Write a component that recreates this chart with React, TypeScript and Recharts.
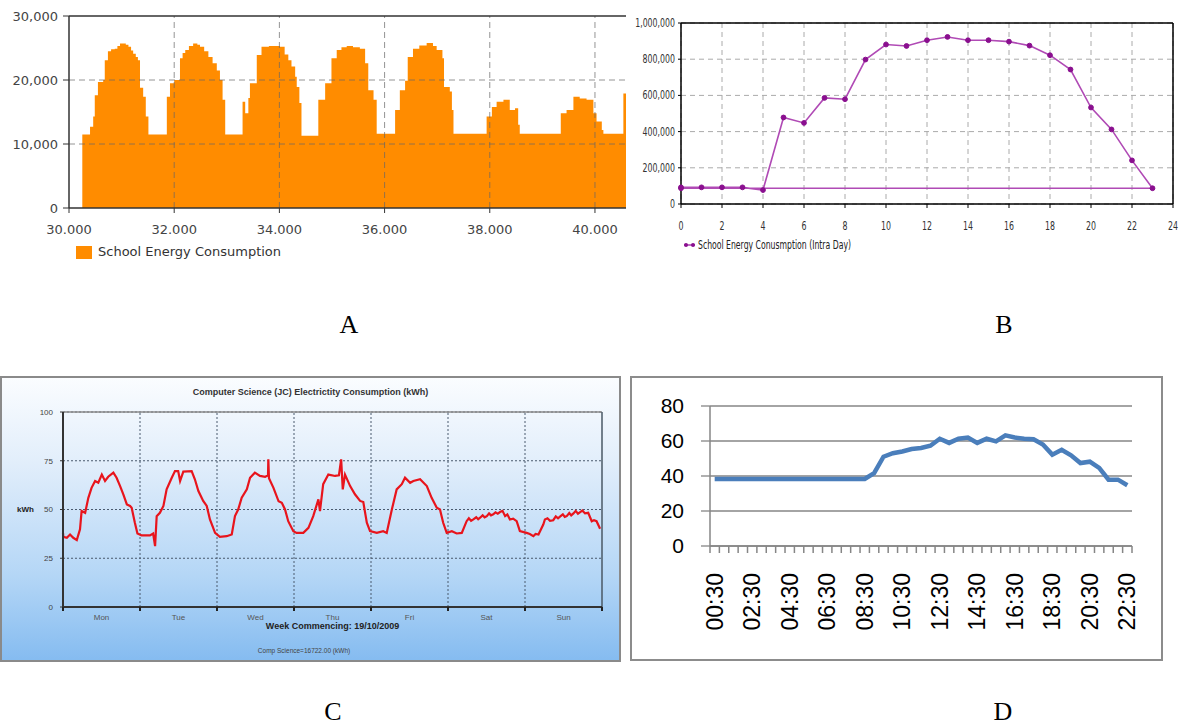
import React from 'react';
import { AreaChart, Area, LineChart, Line, XAxis, YAxis, CartesianGrid, ReferenceLine } from 'recharts';

// ---------- Chart A: School Energy Consumption ----------
const aX = [30.253, 30.40, 30.46, 30.49, 30.55, 30.65, 30.68, 30.74, 30.80, 30.87, 30.92, 30.97, 31.08, 31.13, 31.18, 31.22, 31.27, 31.31, 31.35, 31.41, 31.46, 31.51,
  31.86, 31.92, 32.00, 32.11, 32.16, 32.21, 32.28, 32.36, 32.44, 32.49, 32.57, 32.65, 32.73, 32.81, 32.87, 32.92, 32.97,
  33.30, 33.35, 33.41, 33.44, 33.57, 33.66, 33.80, 34.01, 34.10, 34.17, 34.23, 34.30, 34.33, 34.38, 34.42,
  34.74, 34.87, 34.99, 35.09, 35.18, 35.28, 35.40, 35.53, 35.63, 35.69, 35.79, 35.85,
  36.20, 36.29, 36.39, 36.44, 36.54, 36.66, 36.80, 36.92, 36.99, 37.10, 37.13, 37.24, 37.28, 37.31,
  37.94, 38.04, 38.13, 38.26, 38.38, 38.48, 38.54, 38.57,
  39.35, 39.46, 39.59, 39.71, 39.84, 39.97, 40.03, 40.13, 40.16, 40.54, 40.59];
const aY = [11500, 12700, 14300, 17600, 19700, 20000, 23100, 24500, 24800, 24900, 25300, 25700, 25500, 25200, 24600, 24100, 23600, 23100, 18800, 17400, 14300, 11500,
  17400, 19500, 20000, 23400, 24200, 24700, 25300, 25700, 25500, 25200, 24500, 23600, 22600, 21500, 20000, 16900, 11500,
  16600, 14800, 17200, 19500, 23900, 25200, 25300, 25200, 24000, 23100, 22100, 20500, 18900, 16400, 11300,
  16900, 19500, 23400, 24700, 25100, 25300, 25100, 24900, 22600, 18400, 16900, 11600,
  15300, 18400, 19900, 23600, 24900, 25400, 25800, 25300, 24700, 23400, 18900, 18200, 15300, 11600,
  14300, 15800, 16600, 16900, 15300, 15600, 13000, 11600,
  14800, 15300, 17400, 17100, 16900, 14800, 13500, 12200, 11600, 17900, 17900];
const aXTicks = [30, 32, 34, 36, 38, 40];
const aYTicks = [0, 10000, 20000, 30000];

// ---------- Chart B: Intra Day ----------
const bHours = [0, 1, 2, 3, 4, 5, 6, 7, 8, 9, 10, 11, 12, 13, 14, 15, 16, 17, 18, 19, 20, 21, 22, 23, 0];
const bValues = [92000, 92000, 92000, 92000, 77000, 478000, 448000, 586000, 579000, 798000, 881000, 873000, 905000, 923000,
  905000, 905000, 897000, 875000, 822000, 743000, 533000, 412000, 241000, 87000, 87000];
const bXTicks = [0, 2, 4, 6, 8, 10, 12, 14, 16, 18, 20, 22, 24];
const bYTicks = [0, 200000, 400000, 600000, 800000, 1000000];

// ---------- Chart C: Computer Science (JC) ----------
const cHours = [0, 0.1, 1.2, 2.2, 3.2, 4.3, 5.3, 5.8, 6.9, 7.9, 8.9, 10.0, 11.0, 12.1, 13.1, 14.1, 15.7, 16.7, 17.8, 18.8, 19.9, 20.9, 21.4, 22.4, 23.2,
  24.5, 27.1, 28.1, 28.7, 29.2, 30.2, 31.3, 32.3, 33.9, 34.9, 35.9, 36.5, 37.5, 40.1, 41.1, 42.2, 43.7, 44.8, 45.8, 47.4,
  48.9, 51.0, 52.6, 53.6, 54.6, 55.7, 57.3, 58.3, 59.8, 61.4, 63.0, 63.9, 64.0, 64.2, 65.6, 67.2, 68.2, 69.2, 70.2, 71.8,
  72.8, 74.9, 76.5, 78.0, 79.6, 80.1, 81.1, 82.7, 84.8, 86.0, 86.7, 87.2, 87.9, 89.5, 91.0, 92.6, 93.6, 94.7, 95.7,
  97.8, 99.8, 100.9, 102.5, 104.0, 105.6, 106.6, 108.2, 109.2, 111.3, 113.4, 114.9, 116.5, 117.5, 118.5, 119.6,
  121.2, 122.7, 124.3, 125.8, 126.5, 127.2, 127.9, 128.8, 129.4, 130.0, 130.8, 131.4, 132.1, 132.8, 133.4, 134.1, 134.8, 135.5,
  136.2, 137.0, 137.8, 138.5, 139.3, 140.3, 141.4, 142.4,
  144.5, 145.5, 146.6, 147.3, 148.2, 149.7, 150.2, 151.0, 151.8, 152.8, 153.6, 154.3, 154.9, 155.8, 156.4, 157.0, 157.8, 158.4,
  159.1, 159.8, 160.5, 161.2, 161.9, 162.7, 163.7, 164.8, 165.5, 166.3, 167.4];
const cValues = [38, 36, 35.5, 37.2, 35.5, 34.3, 39.8, 49.2, 48.3, 56, 61.1, 64.6, 63.7, 67.9, 64.6, 66.8, 68.9, 66.3, 62, 57.8, 52.6, 51.8, 50.9, 43.2, 37.7,
  36.7, 36.7, 37.7, 31.2, 46.6, 48.3, 51.8, 60.3, 66.3, 69.7, 69.7, 64.6, 69.4, 69.7, 65.5, 59.5, 54.4, 51.8, 44.9, 38,
  36, 36.3, 37.2, 46.6, 50, 56, 60.3, 66.3, 68.9, 67.2, 66.8, 67.5, 75.7, 66, 61.1, 54.2, 53.4, 50, 44, 38.9,
  38, 38, 40.6, 46.6, 55.2, 49.2, 63, 67.9, 67.2, 67.5, 75.7, 60.3, 67.9, 62, 57.8, 54.4, 53.8, 43.2, 38.9,
  38, 38.9, 38, 50, 60.3, 63, 66.3, 63.7, 64.6, 65.5, 62, 56, 50.9, 50, 43.2, 38,
  38.9, 37.7, 38, 44, 45.5, 44.2, 44.9, 46, 45, 45.8, 47, 46, 46.6, 48, 47, 47.5, 48.5, 47.8,
  48.7, 49.3, 46.6, 47.5, 44.9, 45.3, 44, 38.9,
  38, 37.4, 36.3, 37.5, 37.2, 42.3, 44.9, 45.5, 44.2, 44.5, 46.5, 45.5, 46.3, 47.5, 46.2, 46.6, 48.2, 47,
  48, 49.3, 47.8, 48.7, 49.5, 48, 48.3, 44, 44.5, 44, 40.1];
const cDays = ['Mon', 'Tue', 'Wed', 'Thu', 'Fri', 'Sat', 'Sun'];
const cXTicks = [0, 12, 24, 36, 48, 60, 72, 84, 96, 108, 120, 132, 144, 156, 168];
const cDayLines = [24, 48, 72, 96, 120, 144];
const cYTicks = [0, 25, 50, 75, 100];

// ---------- Chart D: half-hourly ----------
const dTimes = ['00:30', '01:00', '01:30', '02:00', '02:30', '03:00', '03:30', '04:00', '04:30', '05:00', '05:30', '06:00',
  '06:30', '07:00', '07:30', '08:00', '08:30', '09:00', '09:30', '10:00', '10:30', '11:00', '11:30', '12:00', '12:30',
  '13:00', '13:30', '14:00', '14:30', '15:00', '15:30', '16:00', '16:30', '17:00', '17:30', '18:00', '18:30', '19:00',
  '19:30', '20:00', '20:30', '21:00', '21:30', '22:00', '22:30'];
const dValues = [38.3, 38.3, 38.3, 38.3, 38.3, 38.3, 38.3, 38.3, 38.3, 38.3, 38.3, 38.3, 38.3, 38.3, 38.3, 38.3, 38.3,
  41.7, 51, 53, 54, 55.4, 56, 57.3, 61.3, 58.9, 61.3, 62, 58.9, 61.3, 59.8, 63.2, 62, 61.3, 61, 58, 52.2, 55, 51.8,
  47.4, 48.2, 44.6, 37.9, 37.9, 34.7];
const dYTicks = [0, 20, 40, 60, 80];
const dLabelEvery = 4;

const aData = aX.map((x, i) => ({ x, y: aY[i] }));
const bData = bHours.map((h, i) => ({ h, v: bValues[i] }));
const cData = cHours.map((h, i) => ({ h, v: cValues[i] }));
const dData = dTimes.map((t, i) => ({ i, t, v: dValues[i] }));
const dTicks: number[] = [];
for (let k = -1; k < dTimes.length; k++) {
  dTicks.push(k + 0.5);
  if (k + 1 < dTimes.length && (k + 1) % dLabelEvery === 0) dTicks.push(k + 1);
}
dTicks.sort((a, b) => a - b);

const fmtComma = (v: number) => v.toLocaleString('en-US');

function ChartA() {
  return (
    <div style={{ position: 'absolute', left: 0, top: 0 }}>
      <AreaChart width={630} height={240} data={aData} margin={{ top: 16, right: 4, left: 0, bottom: 0 }}>
        <XAxis type="number" dataKey="x" domain={[30, 40.59]} ticks={aXTicks} allowDataOverflow interval={0}
          tickFormatter={(v: number) => v.toFixed(3)} height={32} tickSize={5} tickMargin={12}
          axisLine={{ stroke: '#333', strokeWidth: 1.5 }} tickLine={{ stroke: '#333' }}
          tick={{ fill: '#444', fontSize: 13, fontFamily: 'DejaVu Sans' }} />
        <YAxis type="number" domain={[0, 30000]} ticks={aYTicks} width={69} interval={0}
          tickFormatter={fmtComma} tickSize={6} tickMargin={5}
          axisLine={{ stroke: '#333', strokeWidth: 1.5 }} tickLine={{ stroke: '#333' }}
          tick={{ fill: '#444', fontSize: 13, fontFamily: 'DejaVu Sans' }} />
        <Area type="stepAfter" dataKey="y" fill="#FF8C00" fillOpacity={1} stroke="none" isAnimationActive={false} />
        {aYTicks.slice(1, 3).map((t) => (
          <ReferenceLine key={'ay' + t} y={t} stroke="#666" strokeOpacity={0.7} strokeDasharray="6 4" />
        ))}
        {aXTicks.slice(1).map((t) => (
          <ReferenceLine key={'ax' + t} x={t} stroke="#666" strokeOpacity={0.7} strokeDasharray="6 4" />
        ))}
        <ReferenceLine y={30000} stroke="#333" strokeWidth={1.5} />
      </AreaChart>
      <div style={{ position: 'absolute', left: 76, top: 246, width: 16, height: 13, background: '#FF8C00' }} />
      <div style={{ position: 'absolute', left: 98, top: 244, fontFamily: 'DejaVu Sans', fontSize: 13, color: '#333', whiteSpace: 'nowrap' }}>
        School Energy Consumption
      </div>
    </div>
  );
}

const bFont = "'DejaVu Sans Condensed', 'Liberation Sans', sans-serif";
const narrowLen = (s: string) => s.split('').reduce((a, c) => a + (c === ',' ? 2.4 : 5), 0);

const BYTick = (props: any) => {
  const { x, y, payload } = props;
  const s = fmtComma(payload.value);
  return (
    <text x={x} y={y} textAnchor="end" dominantBaseline="central" fontSize={12} fontFamily={bFont} fill="#333"
      textLength={narrowLen(s)} lengthAdjust="spacingAndGlyphs">{s}</text>
  );
};

const BXTick = (props: any) => {
  const { x, y, payload } = props;
  const s = String(payload.value);
  return (
    <text x={x} y={y} dy="0.71em" textAnchor="middle" fontSize={12} fontFamily={bFont} fill="#333"
      textLength={narrowLen(s)} lengthAdjust="spacingAndGlyphs">{s}</text>
  );
};

function ChartB() {
  return (
    <div style={{ position: 'absolute', left: 600, top: 0 }}>
      <LineChart width={582} height={232} data={bData} margin={{ top: 23, right: 9, left: 0, bottom: 0 }}>
        <CartesianGrid stroke="#aaa" strokeDasharray="5 4" />
        <XAxis type="number" dataKey="h" domain={[0, 24]} ticks={bXTicks} interval={0} height={28}
          tickSize={4} tickMargin={13} axisLine={{ stroke: '#000', strokeWidth: 1.5 }} tickLine={{ stroke: '#000' }}
          tick={<BXTick />} />
        <YAxis type="number" domain={[0, 1000000]} ticks={bYTicks} interval={0} width={81}
          tickSize={3} tickMargin={3}
          axisLine={{ stroke: '#000', strokeWidth: 1.5 }} tickLine={{ stroke: '#000' }}
          tick={<BYTick />} />
        <ReferenceLine y={1000000} stroke="#000" strokeWidth={1.5} />
        <ReferenceLine x={24} stroke="#000" strokeWidth={1.5} />
        <Line type="linear" dataKey="v" stroke="#b04ab5" strokeWidth={1.6}
          dot={{ r: 2.4, fill: '#8a0f8f', stroke: '#8a0f8f', strokeWidth: 1 }} isAnimationActive={false} />
      </LineChart>
      <svg style={{ position: 'absolute', left: 80, top: 238 }} width={240} height={16}>
        <line x1={4} x2={15} y1={7} y2={7} stroke="#b04ab5" strokeWidth={1.6} />
        <circle cx={6} cy={7} r={2} fill="#8a0f8f" />
        <circle cx={13} cy={7} r={2} fill="#8a0f8f" />
        <text x={18} y={11} fontSize={11.5} fontFamily={bFont} fill="#222" textLength={153} lengthAdjust="spacingAndGlyphs">
          School Energy Conusmption (Intra Day)
        </text>
      </svg>
    </div>
  );
}

const CTick = (props: any) => {
  const { x, y, payload } = props;
  const v = payload.value as number;
  if (v % 24 === 0) {
    return <line x1={x} x2={x} y1={y} y2={y + 4} stroke="#222" strokeWidth={2} />;
  }
  return (
    <text x={x} y={y + 13} textAnchor="middle" fontSize={8} fill="#555" fontFamily="Liberation Sans">
      {cDays[(v - 12) / 24]}
    </text>
  );
};

function ChartC() {
  return (
    <div style={{
      position: 'absolute', left: 0, top: 376, width: 621, height: 286,
      background: 'linear-gradient(to bottom, #fbfdff 0%, #e2eefb 30%, #b4d6f6 70%, #84bbf0 100%)',
      boxShadow: 'inset 0 0 0 2px #8a8a8a',
    }}>
      <div style={{ position: 'absolute', left: 0, top: 11, width: 621, textAlign: 'center', fontFamily: 'Liberation Sans',
        fontWeight: 'bold', fontSize: 9, color: '#333' }}>
        Computer Science (JC) Electrictity Consumption (kWh)
      </div>
      <div style={{ position: 'absolute', left: 0, top: 0 }}>
        <LineChart width={621} height={286} data={cData} margin={{ top: 36, right: 19, left: 0, bottom: 0 }}>
          <CartesianGrid vertical={false} stroke="#4a5a6e" strokeDasharray="2 2" />
          <XAxis type="number" dataKey="h" domain={[0, 168]} ticks={cXTicks} interval={0} height={55}
            tickSize={0} tickMargin={0} tickLine={false} axisLine={{ stroke: '#333', strokeWidth: 2 }}
            tick={<CTick />} />
          <YAxis type="number" domain={[0, 100]} ticks={cYTicks} interval={0} width={63}
            tickSize={3} tickMargin={7} axisLine={{ stroke: '#333', strokeWidth: 2 }} tickLine={{ stroke: '#333' }}
            tick={{ fill: '#444', fontSize: 8, fontFamily: 'Liberation Sans' }}
            label={{ value: 'kWh', position: 'insideLeft', offset: 17, fill: '#222', fontSize: 8, fontWeight: 'bold', fontFamily: 'Liberation Sans' }} />
          {cDayLines.map((d) => (
            <ReferenceLine key={'cd' + d} x={d} stroke="#4a5a6e" strokeDasharray="2 2" />
          ))}
          <ReferenceLine y={100} stroke="#8a8a8a" strokeWidth={1.5} />
          <ReferenceLine x={168} stroke="#4a5866" strokeWidth={1.5} />
          <Line type="linear" dataKey="v" stroke="#e8141c" strokeWidth={2.2} dot={false} isAnimationActive={false} />
        </LineChart>
      </div>
      <div style={{ position: 'absolute', left: 63, top: 245, width: 539, textAlign: 'center', fontFamily: 'Liberation Sans',
        fontWeight: 'bold', fontSize: 9, color: '#222' }}>
        Week Commencing: 19/10/2009
      </div>
      <div style={{ position: 'absolute', left: 204, top: 271, width: 200, textAlign: 'center', fontFamily: 'Liberation Sans',
        fontSize: 6.5, color: '#444' }}>
        Comp Science=16722.00 (kWh)
      </div>
    </div>
  );
}

const DTick = (props: any) => {
  const { x, y, payload } = props;
  const v = payload.value as number;
  if (!Number.isInteger(v)) {
    return <line x1={x} x2={x} y1={y} y2={y + 7} stroke="#868686" strokeWidth={1.5} />;
  }
  return (
    <text transform={`rotate(-90, ${x}, ${y + 27})`} x={x} y={y + 27} textAnchor="end" dominantBaseline="central"
      fontSize={23} fill="#000" fontFamily="Liberation Sans">
      {dTimes[v]}
    </text>
  );
};

function ChartD() {
  return (
    <div style={{
      position: 'absolute', left: 630, top: 376, width: 533, height: 285, background: '#fff',
      boxShadow: 'inset 0 0 0 2px #8c8c8c',
    }}>
      <div style={{ position: 'absolute', left: 0, top: 0 }}>
        <LineChart width={533} height={285} data={dData} margin={{ top: 30, right: 31, left: 0, bottom: 0 }}>
          <CartesianGrid vertical={false} stroke="#868686" strokeWidth={1.3} />
          <XAxis type="number" dataKey="i" domain={[-0.5, dTimes.length - 0.5]} ticks={dTicks} interval={0} height={115}
            tickSize={0} tickMargin={0} tickLine={false} axisLine={{ stroke: '#868686', strokeWidth: 1.5 }}
            tick={<DTick />} />
          <YAxis type="number" domain={[0, 80]} ticks={dYTicks} interval={0} width={80}
            tickSize={9} tickMargin={17} axisLine={{ stroke: '#868686', strokeWidth: 1.5 }} tickLine={{ stroke: '#868686', strokeWidth: 1.3 }}
            tick={{ fill: '#000', fontSize: 21, fontFamily: 'Liberation Sans' }} />
          <Line type="linear" dataKey="v" stroke="#4a7ebb" strokeWidth={4.5} dot={false} isAnimationActive={false} />
        </LineChart>
      </div>
    </div>
  );
}

const letterStyle: React.CSSProperties = {
  position: 'absolute', width: 60, textAlign: 'center', fontFamily: "'Liberation Serif', 'Times New Roman', serif",
  fontSize: 26, color: '#000', lineHeight: '30px',
};

export default function App() {
  return (
    <div style={{ position: 'absolute', left: 0, top: 0, width: 1182, height: 726, background: '#fff', overflow: 'hidden' }}>
      <ChartA />
      <ChartB />
      <ChartC />
      <ChartD />
      <div style={{ ...letterStyle, left: 319, top: 310 }}>A</div>
      <div style={{ ...letterStyle, left: 974, top: 310 }}>B</div>
      <div style={{ ...letterStyle, left: 303, top: 697 }}>C</div>
      <div style={{ ...letterStyle, left: 973, top: 697 }}>D</div>
    </div>
  );
}
